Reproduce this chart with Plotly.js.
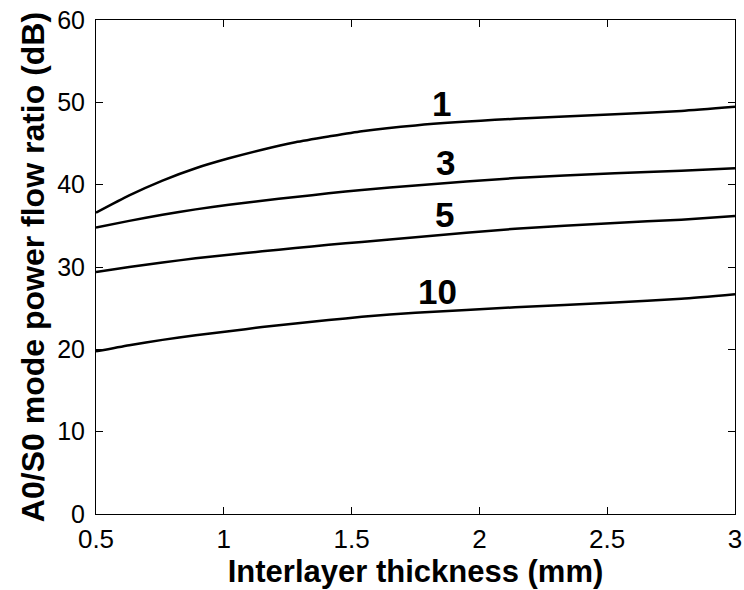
<!DOCTYPE html>
<html>
<head>
<meta charset="utf-8">
<script src="https://cdn.plot.ly/plotly-3.0.1.min.js"></script>
<style>html,body{margin:0;padding:0;background:#fff;}#chart{width:744px;height:590px;}</style>
</head>
<body>
<div id="chart"></div>
<script>
// Interlayer thickness (mm)
const thickness = [0.5, 0.63, 0.76, 0.89, 1.02, 1.15, 1.28, 1.41, 1.54, 1.75, 2.14, 2.53, 2.79, 3.0];
// A0/S0 power flow ratio (dB) for each curve
const curve1  = [36.6, 38.7, 40.5, 42.0, 43.2, 44.25, 45.15, 45.85, 46.5, 47.2, 48.0, 48.55, 48.95, 49.45];
const curve3  = [34.8, 35.6, 36.35, 37.0, 37.55, 38.05, 38.5, 38.95, 39.35, 39.9, 40.8, 41.4, 41.7, 42.0];
const curve5  = [29.4, 30.0, 30.55, 31.05, 31.5, 31.9, 32.3, 32.7, 33.05, 33.6, 34.65, 35.35, 35.75, 36.2];
const curve10 = [19.75, 20.5, 21.15, 21.7, 22.2, 22.7, 23.15, 23.55, 23.95, 24.45, 25.1, 25.7, 26.15, 26.7];
const curveNames = ["1", "3", "5", "10"];
const curves = [curve1, curve3, curve5, curve10];
const xTickVals = [0.5, 1, 1.5, 2, 2.5, 3];
const xTickText = ["0.5", "1", "1.5", "2", "2.5", "3"];
const yTickVals = [0, 10, 20, 30, 40, 50, 60];
const yTickText = ["0", "10", "20", "30", "40", "50", "60"];

const FONT = "Liberation Sans, Arial, Helvetica, sans-serif";

const traces = curves.map((c, i) => ({
  x: thickness, y: c, name: curveNames[i], type: "scatter", mode: "lines",
  line: {color: "#000", width: 2.5, shape: "spline", smoothing: 0.6},
  hoverinfo: "skip"
}));

const labelPos = [[1.853, 49.84], [1.866, 42.64], [1.862, 36.35], [1.837, 27.04]];
const annotations = curveNames.map((n, i) => ({
  x: labelPos[i][0], y: labelPos[i][1], xref: "x", yref: "y", text: n, showarrow: false,
  font: {family: FONT, size: 35, color: "#000", weight: "bold"},
  xanchor: "center", yanchor: "middle"
}));

const axisCommon = {
  showgrid: false, zeroline: false, showline: true, linecolor: "#000", linewidth: 1,
  mirror: "ticks", ticks: "inside", ticklen: 7, tickwidth: 1, tickcolor: "#000"
};

const layout = {
  width: 744, height: 590,
  margin: {l: 96, r: 9, t: 20, b: 76},
  paper_bgcolor: "#fff", plot_bgcolor: "#fff",
  showlegend: false,
  font: {family: FONT, color: "#000"},
  xaxis: Object.assign({}, axisCommon, {
    range: [0.5, 3], tickvals: xTickVals, ticktext: xTickText,
    tickfont: {family: FONT, size: 26, color: "#000"},
    ticklabelstandoff: 2,
    title: {text: "Interlayer thickness (mm)", font: {family: FONT, size: 31, color: "#000", weight: "bold"}, standoff: 0}
  }),
  yaxis: Object.assign({}, axisCommon, {
    range: [0, 60], tickvals: yTickVals, ticktext: yTickText,
    tickfont: {family: FONT, size: 25, color: "#000"},
    ticklabelstandoff: 5,
    title: {text: "A0/S0 mode power flow ratio (dB)", font: {family: FONT, size: 32, color: "#000", weight: "bold"}, standoff: 2}
  }),
  annotations: annotations
};

Plotly.newPlot("chart", traces, layout, {staticPlot: true, displayModeBar: false});
</script>
</body>
</html>
